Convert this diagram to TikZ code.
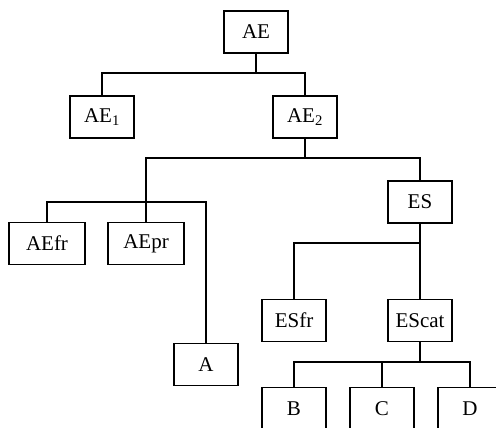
\documentclass[tikz,border=0pt]{standalone}
\usepackage{fontspec}
\setmainfont{Liberation Serif}
\begin{document}
\begin{tikzpicture}[x=1pt,y=-1pt,
  box/.style={draw,line width=1.3pt,minimum width=64pt,minimum height=42pt,inner sep=2pt,font=\fontsize{21}{24}\selectfont},
  wbox/.style={box,minimum width=76pt},
  link/.style={line width=1.3pt}]
\useasboundingbox (0,0) rectangle (496,428);
\clip (0,0) rectangle (496,428);
\node[box] (AE) at (256,32) {AE};
\node[box] (AE1) at (102,117) {AE\textsubscript{1}};
\node[box] (AE2) at (305,117) {AE\textsubscript{2}};
\node[box] (ES) at (420,202) {ES};
\node[wbox] (AEfr) at (47,243.5) {AEfr};
\node[wbox] (AEpr) at (146,243.5) {AEpr};
\node[box] (A) at (206,364.5) {A};
\node[box] (ESfr) at (294,320.5) {ESfr};
\node[box] (EScat) at (420,320.5) {EScat};
\node[box] (B) at (294,408.5) {B};
\node[box] (C) at (382,408.5) {C};
\node[box] (D) at (470,408.5) {D};
\coordinate (b1) at (0,73);
\coordinate (b2) at (0,158);
\coordinate (b3) at (0,202);
\coordinate (b4) at (0,243);
\coordinate (b5) at (0,362);
\coordinate (p1) at (146,0);
\coordinate (p2) at (206,0);
% AE level
\draw[link] (AE.south) -- (AE.south |- b1);
\draw[link] (AE1.north) |- (AE2.north |- b1) -- (AE2.north);
% AE2 level
\draw[link] (AE2.south) -- (AE2.south |- b2);
\draw[link] (p1 |- b3) -- (p1 |- b2) -- (ES.north |- b2) -- (ES.north);
\draw[link] (AEfr.north) |- (p2 |- b3) -- (A.north);
\draw[link] (p1 |- b3) -- (AEpr.north);
% ES level
\draw[link] (ESfr.north) |- (ES.south |- b4);
\draw[link] (ES.south) -- (EScat.north);
% EScat level
\draw[link] (EScat.south) -- (EScat.south |- b5);
\draw[link] (B.north) |- (D.north |- b5) -- (D.north);
\draw[link] (C.north) -- (C.north |- b5);
\end{tikzpicture}
\end{document}
